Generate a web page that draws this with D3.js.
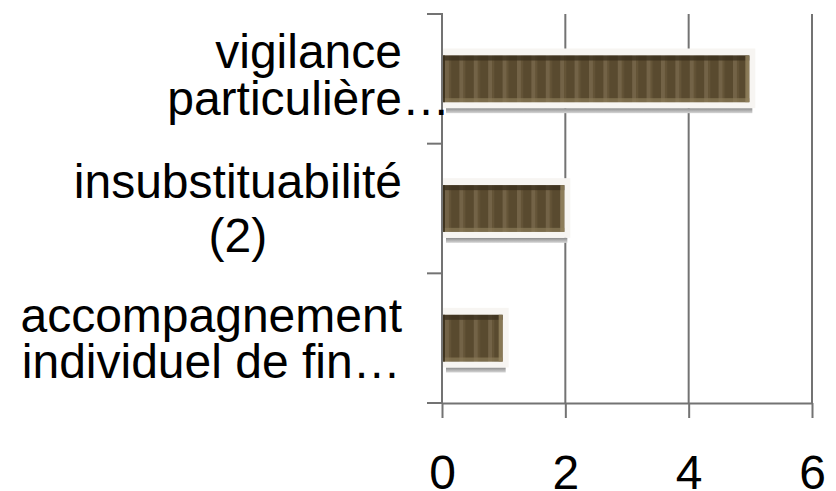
<!DOCTYPE html>
<html>
<head>
<meta charset="utf-8">
<script src="https://cdn.jsdelivr.net/npm/d3@7"></script>
<style>
  body { margin: 0; background: #fff; }
  svg { display: block; }
</style>
</head>
<body>
<div id="chart"></div>
<script>
// données
var labelLines = [["vigilance", "particulière…"], ["insubstituabilité", "(2)"], ["accompagnement", "individuel de fin…"]];
var values = [5, 2, 1];
var xTicks = [0, 2, 4, 6];

// mise en page
var W = 836, H = 491;
var plot = { left: 442, right: 812, top: 14, bottom: 403 };
var labelRight = 402;
var lineOffsets = [[-11, 36], [-11, 43], [-6, 40]]; // baselines rel. au centre de la bande
var gridCol = "#737373";
var font = "'Liberation Sans', Arial, sans-serif";

var svg = d3.select("#chart").append("svg").attr("width", W).attr("height", H);

var x = d3.scaleLinear().domain([0, 6]).range([plot.left, plot.right]);
var y = d3.scaleBand().domain(d3.range(values.length)).range([plot.top, plot.bottom]).paddingInner(0.64).paddingOuter(0.32);
var yOuter = d3.scaleBand().domain(d3.range(values.length)).range([plot.top, plot.bottom]);

// texture des barres
var defs = svg.append("defs");
var pat = defs.append("pattern").attr("id", "stripes").attr("patternUnits", "userSpaceOnUse")
  .attr("x", plot.left + 3).attr("y", 0).attr("width", 14.4).attr("height", 10);
pat.append("rect").attr("width", 14.4).attr("height", 10).attr("fill", "#594a2f");
pat.append("rect").attr("x", 0).attr("width", 4).attr("height", 10).attr("fill", "#736347");
pat.append("rect").attr("x", 4).attr("width", 2).attr("height", 10).attr("fill", "#655538");
var shadowGrad = defs.append("linearGradient").attr("id", "shadow").attr("x1", 0).attr("y1", 0).attr("x2", 0).attr("y2", 1);
shadowGrad.append("stop").attr("offset", "0%").attr("stop-color", "#8c8c8c");
shadowGrad.append("stop").attr("offset", "100%").attr("stop-color", "#d6d6d6");

// grille verticale
svg.append("g").selectAll("line").data(xTicks.filter(function (d) { return d > 0 })).enter()
  .append("line")
  .attr("x1", function (d) { return x(d) }).attr("x2", function (d) { return x(d) })
  .attr("y1", plot.top).attr("y2", plot.bottom)
  .attr("stroke", gridCol).attr("stroke-width", 2);

// barres
var bars = svg.append("g").selectAll("g").data(values).enter().append("g");
bars.append("rect") // ombre
  .attr("x", x(0) + 4).attr("y", function (d, i) { return y(i) + y.bandwidth() + 6 })
  .attr("width", function (d) { return x(d) - x(0) - 2 }).attr("height", 5)
  .attr("fill", "url(#shadow)");
bars.append("rect") // halo blanc
  .attr("x", x(0)).attr("y", function (d, i) { return y(i) - 7 })
  .attr("width", function (d) { return x(d) - x(0) + 5 }).attr("height", y.bandwidth() + 13)
  .attr("fill", "#f7f5f2");
bars.append("rect")
  .attr("x", x(0) + 1).attr("y", function (d, i) { return y(i) })
  .attr("width", function (d) { return x(d) - x(0) - 2 }).attr("height", y.bandwidth())
  .attr("fill", "url(#stripes)");
bars.append("rect") // bord haut sombre
  .attr("x", x(0) + 1).attr("y", function (d, i) { return y(i) })
  .attr("width", function (d) { return x(d) - x(0) - 2 }).attr("height", 5)
  .attr("fill", "#3a2f1d").attr("opacity", 0.75);
bars.append("rect") // bord bas clair
  .attr("x", x(0) + 1).attr("y", function (d, i) { return y(i) + y.bandwidth() - 4 })
  .attr("width", function (d) { return x(d) - x(0) - 2 }).attr("height", 4)
  .attr("fill", "#8a7a58").attr("opacity", 0.7);
bars.append("rect") // bord droit clair
  .attr("x", function (d) { return x(d) - 5 }).attr("y", function (d, i) { return y(i) })
  .attr("width", 4).attr("height", y.bandwidth())
  .attr("fill", "#93835f").attr("opacity", 0.8);
bars.append("rect") // bord gauche
  .attr("x", x(0) + 1).attr("y", function (d, i) { return y(i) })
  .attr("width", 2).attr("height", y.bandwidth())
  .attr("fill", "#3a2f1d").attr("opacity", 0.8);

// axe vertical
svg.append("line").attr("x1", plot.left).attr("x2", plot.left).attr("y1", plot.top - 1).attr("y2", plot.bottom)
  .attr("stroke", gridCol).attr("stroke-width", 2);
svg.append("g").selectAll("line").data(d3.range(values.length + 1)).enter().append("line")
  .attr("x1", plot.left - 15).attr("x2", plot.left)
  .attr("y1", function (d) { return d < values.length ? yOuter(d) : plot.bottom })
  .attr("y2", function (d) { return d < values.length ? yOuter(d) : plot.bottom })
  .attr("stroke", gridCol).attr("stroke-width", 2);

// axe horizontal
var xAxis = svg.append("g").attr("transform", "translate(0," + plot.bottom + ")")
  .call(d3.axisBottom(x).tickValues(xTicks).tickFormat(d3.format("d")).tickSize(15).tickPadding(37).tickSizeOuter(0));
xAxis.select(".domain").attr("stroke", gridCol).attr("stroke-width", 2);
xAxis.selectAll(".tick line").attr("stroke", gridCol).attr("stroke-width", 2);
xAxis.selectAll("text").attr("font-family", font)
  .attr("font-size", "48px").attr("fill", "#000").attr("dy", "0.71em");

// étiquettes des catégories
var lab = svg.append("g").attr("font-family", font)
  .attr("font-size", "48px").attr("fill", "#000");
labelLines.forEach(function (lines, i) {
  var cy = yOuter(i) + yOuter.bandwidth() / 2;
  var t0 = lab.append("text").text(lines[0]);
  var w0 = t0.node().getComputedTextLength();
  t0.remove();
  var cx = labelRight - w0 / 2;
  lines.forEach(function (s, j) {
    lab.append("text").attr("x", cx).attr("y", cy + lineOffsets[i][j])
      .attr("text-anchor", "middle").text(s);
  });
});
</script>
</body>
</html>
